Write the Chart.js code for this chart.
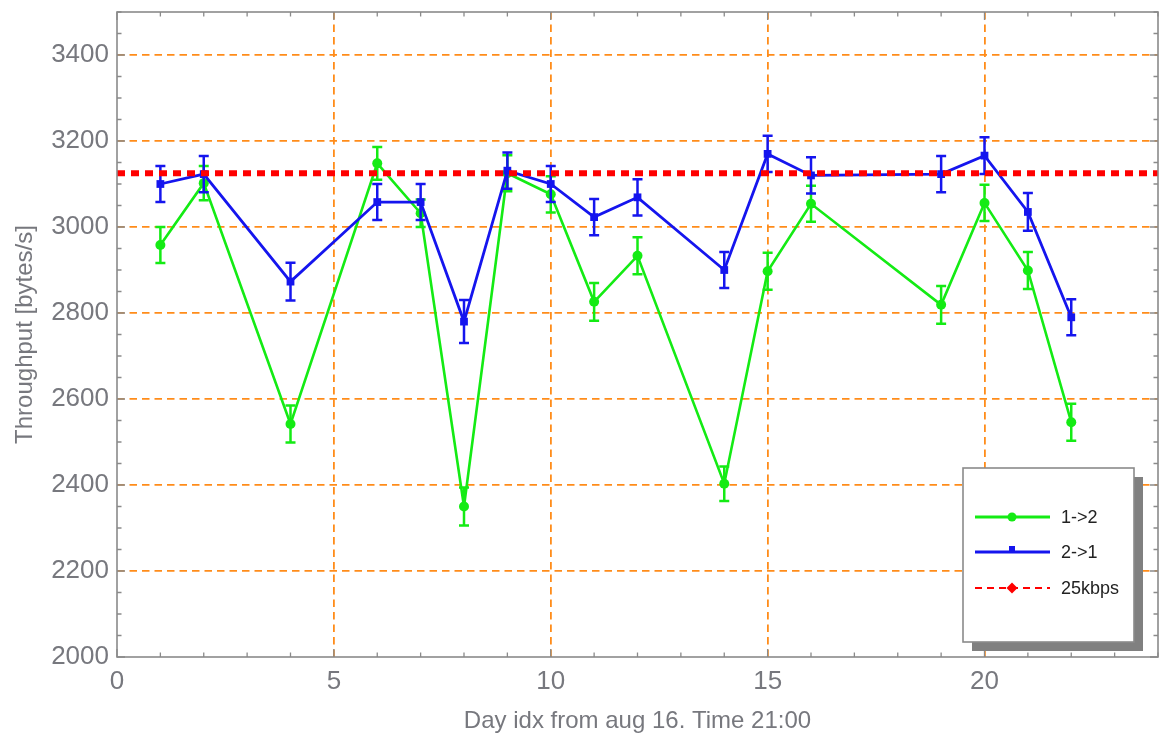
<!DOCTYPE html>
<html><head><meta charset="utf-8">
<script src="https://cdn.jsdelivr.net/npm/chart.js@4.4.1/dist/chart.umd.min.js"></script>
<style>html,body{margin:0;padding:0;background:#fff;}#wrap{width:1161px;height:737px;}</style>
</head><body><div id="wrap"><canvas id="c" width="1161" height="737"></canvas></div>
<script>
// ---- data ----
const days = [1, 2, 4, 6, 7, 8, 9, 10, 11, 12, 14, 15, 16, 19, 20, 21, 22];
const thr12 = [2958, 3102, 2542, 3148, 3032, 2350, 3125, 3076, 2826, 2933, 2403, 2897, 3054, 2819, 3056, 2899, 2546];
const err12 = [42, 40, 43, 38, 32, 44, 42, 42, 44, 43, 40, 43, 42, 44, 42, 43, 43];
const thr21 = [3100, 3123, 2873, 3058, 3058, 2780, 3131, 3100, 3023, 3069, 2900, 3170, 3120, 3123, 3166, 3035, 2790];
const err21 = [42, 42, 44, 42, 42, 50, 42, 42, 42, 42, 42, 42, 42, 42, 43, 44, 42];
const refRate = 3125;
const xRange = [0, 24];
const yRange = [2000, 3500];
const xTickVals = [0, 5, 10, 15, 20];
const yTickVals = [2000, 2200, 2400, 2600, 2800, 3000, 3200, 3400];
const seriesNames = ['1->2', '2->1', '25kbps'];

const FONT = '"Liberation Sans", Arial, sans-serif';
const GRAY = '#77787e';
const GREEN = '#14eb14';
const BLUE = '#1515ee';
const RED = '#ff0000';
const ORANGE = '#ff8c1a';

const errorBars = {
  id: 'errorBars',
  afterDatasetDraw(chart, args) {
    const ds = chart.data.datasets[args.index];
    if (!ds.errors) return;
    const ctx = chart.ctx, xs = chart.scales.x, ys = chart.scales.y;
    ctx.save();
    ctx.strokeStyle = ds.borderColor;
    ctx.lineWidth = 2.5;
    ds.data.forEach((p, i) => {
      const px = xs.getPixelForValue(p.x);
      const y1 = ys.getPixelForValue(p.y + ds.errors[i]);
      const y2 = ys.getPixelForValue(p.y - ds.errors[i]);
      ctx.beginPath();
      ctx.moveTo(px, y1); ctx.lineTo(px, y2);
      ctx.moveTo(px - 5, y1); ctx.lineTo(px + 5, y1);
      ctx.moveTo(px - 5, y2); ctx.lineTo(px + 5, y2);
      ctx.stroke();
    });
    ctx.restore();
  }
};

const frame = {
  id: 'frame',
  afterDraw(chart) {
    const ctx = chart.ctx, a = chart.chartArea, xs = chart.scales.x, ys = chart.scales.y;
    ctx.save();
    ctx.strokeStyle = '#8a8a8a';
    ctx.lineWidth = 1.6;
    ctx.strokeRect(a.left, a.top, a.right - a.left, a.bottom - a.top);
    ctx.lineWidth = 1.3;
    ctx.beginPath();
    for (let v = xRange[0]; v <= xRange[1]; v += 1) {
      const px = xs.getPixelForValue(v);
      const L = (v % 5 === 0) ? 8 : 4.5;
      ctx.moveTo(px, a.bottom); ctx.lineTo(px, a.bottom - L);
      ctx.moveTo(px, a.top); ctx.lineTo(px, a.top + L);
    }
    for (let v = yRange[0]; v <= yRange[1]; v += 50) {
      const py = ys.getPixelForValue(v);
      const L = (v % 200 === 0) ? 8 : 4.5;
      ctx.moveTo(a.left, py); ctx.lineTo(a.left + L, py);
      ctx.moveTo(a.right, py); ctx.lineTo(a.right - L, py);
    }
    ctx.stroke();

    // legend box
    const bx = 963, by = 468, bw = 171, bh = 174;
    ctx.fillStyle = '#808080';
    ctx.fillRect(bx + 9, by + 9, bw, bh);
    ctx.fillStyle = '#ffffff';
    ctx.fillRect(bx, by, bw, bh);
    ctx.strokeStyle = '#8a8a8a';
    ctx.lineWidth = 1.6;
    ctx.strokeRect(bx, by, bw, bh);
    const rows = [517, 552, 588];
    const cols = [GREEN, BLUE, RED];
    ctx.font = '18px ' + FONT;
    ctx.textBaseline = 'middle';
    ctx.textAlign = 'left';
    rows.forEach((ry, i) => {
      ctx.strokeStyle = cols[i];
      ctx.fillStyle = cols[i];
      ctx.lineWidth = i === 2 ? 2.2 : 2.8;
      ctx.setLineDash(i === 2 ? [7, 5] : []);
      ctx.beginPath(); ctx.moveTo(975, ry); ctx.lineTo(1050, ry); ctx.stroke();
      ctx.setLineDash([]);
      ctx.beginPath();
      if (i === 0) { ctx.arc(1012, ry, 4.5, 0, Math.PI * 2); ctx.fill(); }
      else if (i === 1) { ctx.fillRect(1009, ry - 6, 6, 7); }
      else { ctx.moveTo(1012, ry - 5.5); ctx.lineTo(1017.5, ry); ctx.lineTo(1012, ry + 5.5); ctx.lineTo(1006.5, ry); ctx.closePath(); ctx.fill(); }
      ctx.fillStyle = '#222';
      ctx.fillText(seriesNames[i], 1061, ry + 1);
    });
    ctx.restore();
  }
};

const gridColorX = c => (c.tick && c.tick.value === xRange[0]) ? 'rgba(0,0,0,0)' : ORANGE;
const gridColorY = c => (c.tick && c.tick.value === yRange[0]) ? 'rgba(0,0,0,0)' : ORANGE;

new Chart(document.getElementById('c'), {
  type: 'scatter',
  data: {
    datasets: [
      {
        label: seriesNames[0],
        data: days.map((d, i) => ({ x: d, y: thr12[i] })),
        errors: err12,
        showLine: true,
        borderColor: GREEN, backgroundColor: GREEN,
        borderWidth: 2.6,
        pointStyle: 'circle', pointRadius: 5, pointBorderWidth: 0,
        order: 3
      },
      {
        label: seriesNames[1],
        data: days.map((d, i) => ({ x: d, y: thr21[i] })),
        errors: err21,
        showLine: true,
        borderColor: BLUE, backgroundColor: BLUE,
        borderWidth: 2.8,
        pointStyle: 'rect', pointRadius: 5.5, pointBorderWidth: 0,
        order: 2
      },
      {
        label: seriesNames[2],
        data: [{ x: xRange[0], y: refRate }, { x: xRange[1], y: refRate }],
        showLine: true,
        borderColor: RED, backgroundColor: RED,
        borderWidth: 6,
        borderDash: [8, 6],
        pointRadius: 0,
        order: 1
      }
    ]
  },
  options: {
    responsive: false,
    animation: false,
    devicePixelRatio: 1,
    layout: { autoPadding: false, padding: { top: 12, right: 3, left: 0, bottom: 0 } },
    plugins: { legend: { display: false }, tooltip: { enabled: false } },
    scales: {
      x: {
        type: 'linear', min: xRange[0], max: xRange[1],
        afterBuildTicks: s => { s.ticks = xTickVals.map(v => ({ value: v })); },
        afterFit: s => { s.height = 80; s.paddingLeft = 0; s.paddingRight = 0; },
        ticks: { font: { family: FONT, size: 26 }, color: GRAY, padding: 9, maxRotation: 0, autoSkip: false, callback: v => String(v) },
        grid: { color: gridColorX, lineWidth: 1.8, drawTicks: false },
        border: { display: false, dash: [7.5, 5] },
        title: { display: true, text: 'Day idx from aug 16. Time 21:00', font: { family: FONT, size: 24 }, color: GRAY, padding: { top: 0, bottom: 1 } }
      },
      y: {
        type: 'linear', min: yRange[0], max: yRange[1],
        afterBuildTicks: s => { s.ticks = yTickVals.map(v => ({ value: v })); },
        afterFit: s => { s.width = 117; s.paddingTop = 0; s.paddingBottom = 0; },
        ticks: { font: { family: FONT, size: 26 }, color: GRAY, padding: 8, autoSkip: false, callback: v => String(v) },
        grid: { color: gridColorY, lineWidth: 1.8, drawTicks: false },
        border: { display: false, dash: [7.5, 5] },
        title: { display: true, text: 'Throughput [bytes/s]', font: { family: FONT, size: 24 }, color: GRAY, padding: { top: 11, bottom: 0 } }
      }
    }
  },
  plugins: [errorBars, frame]
});
</script>
</body></html>
